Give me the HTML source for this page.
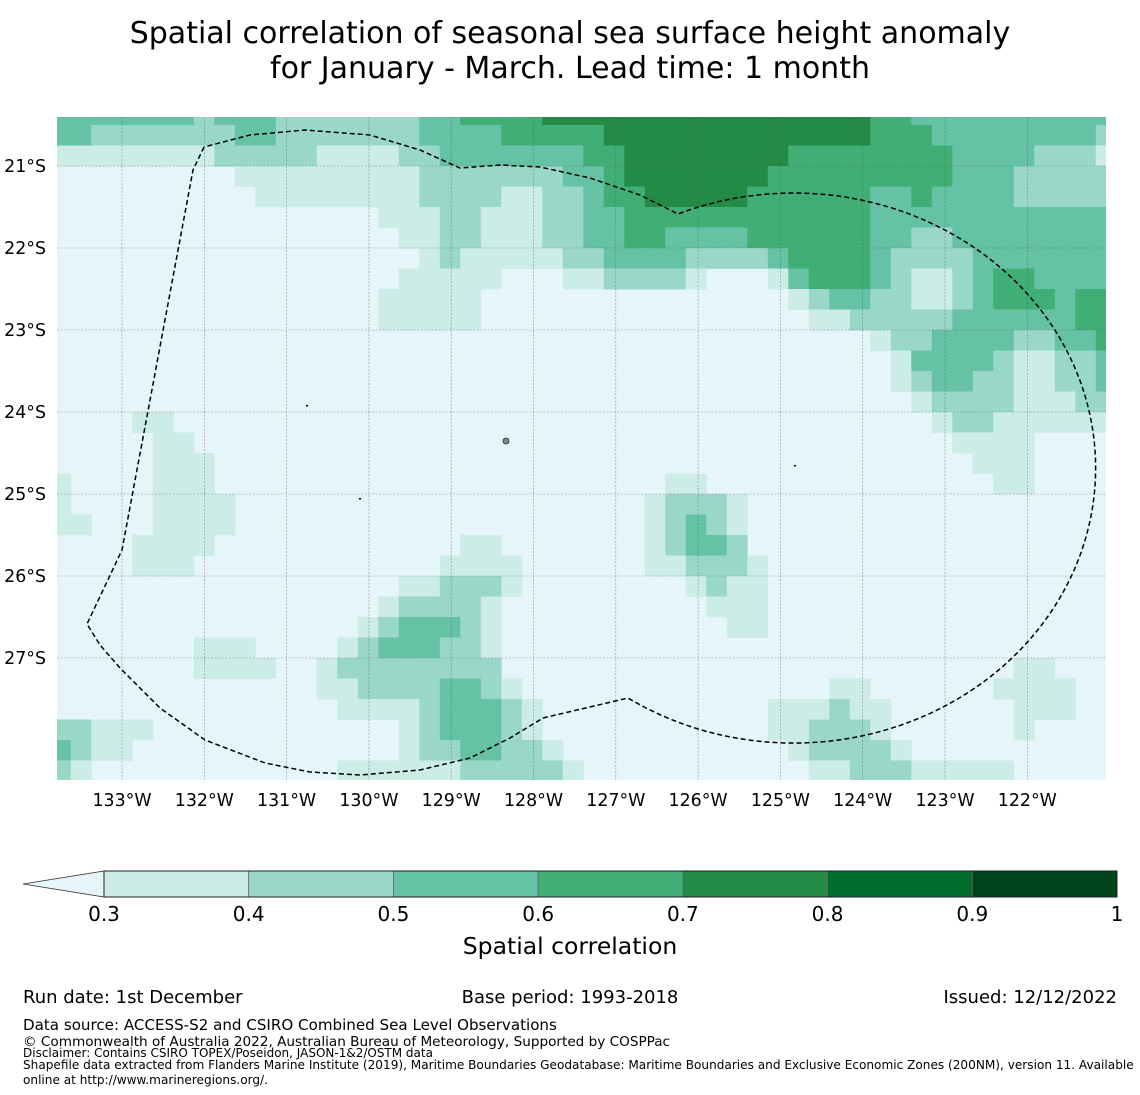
<!DOCTYPE html>
<html><head><meta charset="utf-8"><style>
html,body{margin:0;padding:0;background:#fff;}
svg{display:block;font-family:"DejaVu Sans","Liberation Sans",sans-serif;}
</style></head><body>
<svg id="chart" width="1140" height="1095" viewBox="0 0 1140 1095">
<text x="570" y="43" text-anchor="middle" font-size="30">Spatial correlation of seasonal sea surface height anomaly</text>
<text x="570" y="78" text-anchor="middle" font-size="30">for January - March. Lead time: 1 month</text>
<defs><clipPath id="mapclip"><rect x="57" y="117" width="1049" height="663"/></clipPath></defs>
<g id="map" clip-path="url(#mapclip)">
<rect x="57" y="117" width="1049" height="663" fill="#e5f5f9"/>
<g id="cells"></g>
<g id="grid"></g>
<path id="eez" fill="none" stroke="#000" stroke-width="1.5" stroke-dasharray="5,3"/>
<g>
<circle cx="506" cy="441" r="3" fill="#888" stroke="#000" stroke-width="0.6"/>
<rect x="306" y="405" width="2" height="1.5" fill="#000"/>
<rect x="359" y="498" width="2" height="1.5" fill="#000"/>
<rect x="794" y="465" width="2" height="1.5" fill="#000"/>
</g>
</g>
<g id="axes"></g>
<g id="cbar"></g>
<text x="570" y="954" text-anchor="middle" font-size="23.5">Spatial correlation</text>
<text x="23" y="1003" font-size="18">Run date: 1st December</text>
<text x="570" y="1003" text-anchor="middle" font-size="18">Base period: 1993-2018</text>
<text x="1117" y="1003" text-anchor="end" font-size="18">Issued: 12/12/2022</text>
<text x="23" y="1030" font-size="15.1">Data source: ACCESS-S2 and CSIRO Combined Sea Level Observations</text>
<text x="23" y="1046" font-size="13.6">© Commonwealth of Australia 2022, Australian Bureau of Meteorology, Supported by COSPPac</text>
<text x="23" y="1057" font-size="12">Disclaimer: Contains CSIRO TOPEX/Poseidon, JASON-1&amp;2/OSTM data</text>
<text x="23" y="1069" font-size="12.1">Shapefile data extracted from Flanders Marine Institute (2019), Maritime Boundaries Geodatabase: Maritime Boundaries and Exclusive Economic Zones (200NM), version 11. Available</text>
<text x="23" y="1084" font-size="12.1">online at http://www.marineregions.org/.</text>
</svg>
<script>
const binEdges = [0.3,0.4,0.5,0.6,0.7,0.8,0.9,1.0];
const binColors = ["#e5f5f9","#ccece6","#99d8c9","#66c2a4","#41ae76","#238b45","#006d2c","#00441b"];
const cbarTicks = ["0.3","0.4","0.5","0.6","0.7","0.8","0.9","1"];
const lonTicks = [133,132,131,130,129,128,127,126,125,124,123,122];
const latTicks = [21,22,23,24,25,26,27];
// gridded correlation level per row (north to south), run-length encoded [level,count], 52 cols (0.25 deg)
const gridRuns = [
[[3,7],[2,1],[3,3],[2,7],[3,2],[4,4],[5,16],[4,2],[3,10]],
[[3,2],[2,7],[3,2],[2,7],[3,4],[4,5],[5,13],[4,3],[3,8],[2,1]],
[[1,8],[2,5],[1,4],[2,2],[3,7],[4,2],[5,8],[4,8],[3,4],[2,3],[1,1]],
[[0,9],[1,9],[2,7],[3,2],[4,1],[5,7],[4,9],[3,3],[2,5]],
[[0,10],[1,8],[2,4],[1,2],[2,2],[3,1],[4,2],[5,5],[4,6],[3,2],[4,1],[3,4],[2,5]],
[[0,16],[1,3],[2,2],[1,3],[2,2],[3,2],[4,12],[3,12]],
[[0,17],[1,2],[2,2],[1,3],[2,2],[3,2],[4,2],[3,4],[4,6],[3,2],[2,2],[3,8]],
[[0,18],[1,1],[2,1],[1,5],[2,2],[3,4],[2,4],[3,1],[4,4],[3,1],[2,4],[3,7]],
[[0,17],[1,5],[0,3],[1,2],[2,4],[1,1],[0,3],[1,1],[3,1],[4,3],[3,1],[2,1],[1,2],[2,1],[3,1],[4,2],[3,4]],
[[0,16],[1,5],[0,15],[1,1],[2,1],[3,2],[2,2],[1,2],[2,1],[3,1],[4,3],[3,1],[4,2]],
[[0,16],[1,5],[0,16],[1,2],[2,5],[3,6],[4,2]],
[[0,40],[1,1],[2,2],[3,4],[2,2],[3,2],[4,1]],
[[0,41],[1,1],[3,4],[2,1],[1,2],[2,2],[3,1]],
[[0,41],[1,1],[2,1],[3,2],[2,2],[1,2],[2,2],[3,1]],
[[0,42],[1,1],[2,4],[1,3],[2,2]],
[[0,4],[1,2],[0,37],[1,1],[2,2],[1,6]],
[[0,5],[1,2],[0,37],[1,4],[0,4]],
[[0,5],[1,3],[0,37],[1,3],[0,4]],
[[1,1],[0,4],[1,3],[0,22],[1,2],[0,14],[1,2],[0,4]],
[[1,1],[0,4],[1,4],[0,20],[1,1],[2,3],[1,1],[0,18]],
[[1,2],[0,3],[1,4],[0,20],[1,1],[2,1],[3,1],[2,1],[1,1],[0,18]],
[[0,4],[1,4],[0,12],[1,2],[0,7],[1,1],[2,1],[3,2],[2,1],[0,18]],
[[0,4],[1,3],[0,12],[1,4],[0,6],[1,2],[2,3],[1,1],[0,17]],
[[0,17],[1,2],[2,3],[1,1],[0,8],[1,1],[2,1],[1,2],[0,17]],
[[0,16],[1,1],[2,4],[1,1],[0,10],[1,3],[0,17]],
[[0,15],[1,1],[2,1],[3,3],[2,1],[1,1],[0,11],[1,2],[0,17]],
[[0,7],[1,3],[0,4],[1,1],[2,1],[3,3],[2,2],[1,1],[0,30]],
[[0,7],[1,4],[0,2],[1,1],[2,8],[0,25],[1,2],[0,3]],
[[0,13],[1,2],[2,4],[3,2],[2,1],[1,1],[0,15],[1,2],[0,6],[1,4],[0,2]],
[[0,14],[1,4],[2,1],[3,3],[2,1],[1,1],[0,11],[1,3],[2,1],[1,2],[0,6],[1,3],[0,2]],
[[2,2],[1,3],[0,12],[1,1],[2,1],[3,3],[2,1],[1,1],[0,11],[1,2],[2,3],[1,1],[0,6],[1,1],[0,4]],
[[3,1],[2,1],[1,2],[0,13],[1,1],[2,2],[3,2],[2,2],[1,1],[0,11],[1,1],[2,4],[1,1],[0,10]],
[[2,1],[1,1],[0,12],[1,6],[2,5],[1,1],[0,11],[1,2],[2,3],[1,5],[0,5]]
];
const NS="http://www.w3.org/2000/svg";
function lonX(lonW){ return 122 + (133-lonW)*82.3; }
function latY(latS){ return 166 + (latS-21)*82; }
function colX(c){ return 50.3 + 20.5*c; }
function rowY(r){ return 104.5 + 20.5*r; }
function valueColor(v){ if(v<binEdges[0]) return binColors[0]; let i=0; while(i<binEdges.length-1 && v>=binEdges[i+1]) i++; return binColors[i+1]; }
function levelToValue(l){ return l===0?0.2:binEdges[l-1]+0.05; }
const cells=document.getElementById('cells');
gridRuns.forEach((runs,r)=>{
  let c=0;
  runs.forEach(([lvl,n])=>{
    const v=levelToValue(lvl);
    if(lvl>0){
      const rect=document.createElementNS(NS,'rect');
      rect.setAttribute('x',colX(c).toFixed(1));
      rect.setAttribute('y',rowY(r).toFixed(1));
      rect.setAttribute('width',(20.5*n+0.4).toFixed(1));
      rect.setAttribute('height','20.9');
      rect.setAttribute('fill',valueColor(v));
      
      
      cells.appendChild(rect);
    }
    c+=n;
  });
});
const grid=document.getElementById('grid'), axes=document.getElementById('axes');
lonTicks.forEach(l=>{
  const x=lonX(l);
  const ln=document.createElementNS(NS,'line');
  ln.setAttribute('x1',x);ln.setAttribute('x2',x);ln.setAttribute('y1',117);ln.setAttribute('y2',780);
  ln.setAttribute('stroke','#555');ln.setAttribute('stroke-width','0.6');ln.setAttribute('stroke-dasharray','2,1.5');ln.setAttribute('opacity','0.6');
  
  
  grid.appendChild(ln);
  const t=document.createElementNS(NS,'text');
  t.setAttribute('x',x);t.setAttribute('y',806);t.setAttribute('text-anchor','middle');t.setAttribute('font-size','17.4');
  t.textContent=l+'°W';
  
  
  axes.appendChild(t);
});
latTicks.forEach(l=>{
  const y=latY(l);
  const ln=document.createElementNS(NS,'line');
  ln.setAttribute('x1',57);ln.setAttribute('x2',1106);ln.setAttribute('y1',y);ln.setAttribute('y2',y);
  ln.setAttribute('stroke','#555');ln.setAttribute('stroke-width','0.6');ln.setAttribute('stroke-dasharray','2,1.5');ln.setAttribute('opacity','0.6');
  
  
  grid.appendChild(ln);
  const t=document.createElementNS(NS,'text');
  t.setAttribute('x',46);t.setAttribute('y',y+6);t.setAttribute('text-anchor','end');t.setAttribute('font-size','17.4');
  t.textContent=l+'°S';
  
  
  axes.appendChild(t);
});
// EEZ boundary
const eezLeftPts=[[204,147],[193,170],[122,550],[87,624],[100,645],[120,668],[160,708],[205,740],[265,763],[310,772],[360,775],[420,770],[470,758],[510,738],[543,718],[628,698]];
const eezTopPts=[[678,214],[640,195],[590,178],[540,167],[500,165],[460,168],[420,150],[370,135],[305,130],[250,135],[204,147]];
const d='M'+eezLeftPts.map(p=>p.join(',')).join(' L')+' A302,275 0 1 0 678,214 L'+eezTopPts.slice(1).map(p=>p.join(',')).join(' L');
document.getElementById('eez').setAttribute('d',d);
// colorbar
const cb=document.getElementById('cbar');
const cbX0=104, cbX1=1117, cbY=871, cbH=26, seg=(cbX1-cbX0)/7;
const tri=document.createElementNS(NS,'polygon');
tri.setAttribute('points',`${cbX0},${cbY} ${cbX0},${cbY+cbH} 23,${cbY+cbH/2}`);
tri.setAttribute('fill',binColors[0]);tri.setAttribute('stroke','#333');tri.setAttribute('stroke-width','0.8');


cb.appendChild(tri);
for(let i=0;i<7;i++){
  const r=document.createElementNS(NS,'rect');
  r.setAttribute('x',cbX0+i*seg);r.setAttribute('y',cbY);r.setAttribute('width',seg);r.setAttribute('height',cbH);
  r.setAttribute('fill',binColors[i+1]);r.setAttribute('stroke','#666');r.setAttribute('stroke-width','0.8');
  
  
  cb.appendChild(r);
}
const ol=document.createElementNS(NS,'rect');
ol.setAttribute('x',cbX0);ol.setAttribute('y',cbY);ol.setAttribute('width',cbX1-cbX0);ol.setAttribute('height',cbH);
ol.setAttribute('fill','none');ol.setAttribute('stroke','#222');ol.setAttribute('stroke-width','1');


cb.appendChild(ol);
cbarTicks.forEach((lab,i)=>{
  const t=document.createElementNS(NS,'text');
  t.setAttribute('x',cbX0+i*seg);t.setAttribute('y',921);t.setAttribute('text-anchor','middle');t.setAttribute('font-size','20');
  t.textContent=lab;
  
  
  cb.appendChild(t);
});
</script>
</body></html>
